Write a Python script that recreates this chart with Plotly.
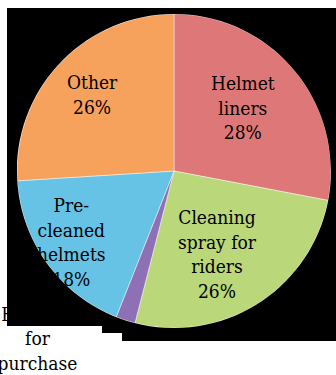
import plotly.graph_objects as go

# Share of sales by product line
labels = ["Helmet liners", "Cleaning spray for riders", "Helmets for purchase",
          "Pre-cleaned helmets", "Other"]
display_names = ["Helmet<br>liners", "Cleaning<br>spray for<br>riders", "Helmets<br>for<br>purchase",
                 "Pre-<br>cleaned<br>helmets", "Other"]
values = [28, 26, 2, 18, 26]
colors = ["#DE7878", "#BAD77A", "#8E70B6", "#66C3E6", "#F6A15C"]

W, H = 336, 375
CX, CY, R = 174, 171, 157          # pie centre and radius in page pixels
FONT = "DejaVu Serif Condensed, Liberation Serif, serif"
FS = 19

# where each slice's label block is centred (page pixels)
label_pos = [(243, 107), (217, 254), (37.5, 353), (71, 242), (92, 94)]

total = sum(values)
pct = [round(100 * v / total) for v in values]
label_text = [f"{n}<br>{p}%" for n, p in zip(display_names, pct)]
small = values.index(min(values))

fig = go.Figure()

# label of the thin slice, sitting in the lower-left corner behind the frame
fig.add_trace(go.Scatter(
    x=[label_pos[small][0]], y=[label_pos[small][1]], mode="text",
    text=[label_text[small]],
    textfont=dict(family=FONT, size=FS, color="black"),
    textposition="middle center", hoverinfo="skip", showlegend=False,
))

fig.add_trace(go.Pie(
    labels=labels, values=values, textinfo="none",
    marker=dict(colors=colors, line=dict(color="rgba(255,255,255,0.55)", width=0.8)),
    sort=False, direction="clockwise", rotation=0,
    domain=dict(x=[(CX - R) / W, (CX + R) / W], y=[1 - (CY + R) / H, 1 - (CY - R) / H]),
    showlegend=False, hoverinfo="label+percent",
))

# black frame around the pie (outer outline with a circular opening)
k = 0.5523 * R
frame = ("M7,8 L336,8 L336,341 L122,341 L122,333 L102,333 L102,326 L7,326 Z "
         f"M{CX + R},{CY} "
         f"C{CX + R},{CY + k} {CX + k},{CY + R} {CX},{CY + R} "
         f"C{CX - k},{CY + R} {CX - R},{CY + k} {CX - R},{CY} "
         f"C{CX - R},{CY - k} {CX - k},{CY - R} {CX},{CY - R} "
         f"C{CX + k},{CY - R} {CX + R},{CY - k} {CX + R},{CY} Z")

annotations = [
    dict(x=label_pos[i][0], y=label_pos[i][1], xref="x", yref="y", text=label_text[i],
         showarrow=False, xanchor="center", yanchor="middle", align="center",
         font=dict(family=FONT, size=FS, color="black"))
    for i in range(len(values)) if i != small
]

fig.update_layout(
    width=W, height=H, margin=dict(l=0, r=0, t=0, b=0),
    paper_bgcolor="white", plot_bgcolor="white",
    xaxis=dict(range=[0, W], visible=False, fixedrange=True),
    yaxis=dict(range=[H, 0], visible=False, fixedrange=True),
    shapes=[dict(type="path", path=frame, xref="x", yref="y", layer="above",
                 fillcolor="black", fillrule="evenodd", line=dict(width=0))],
    annotations=annotations,
)

fig.write_html("out.html")
